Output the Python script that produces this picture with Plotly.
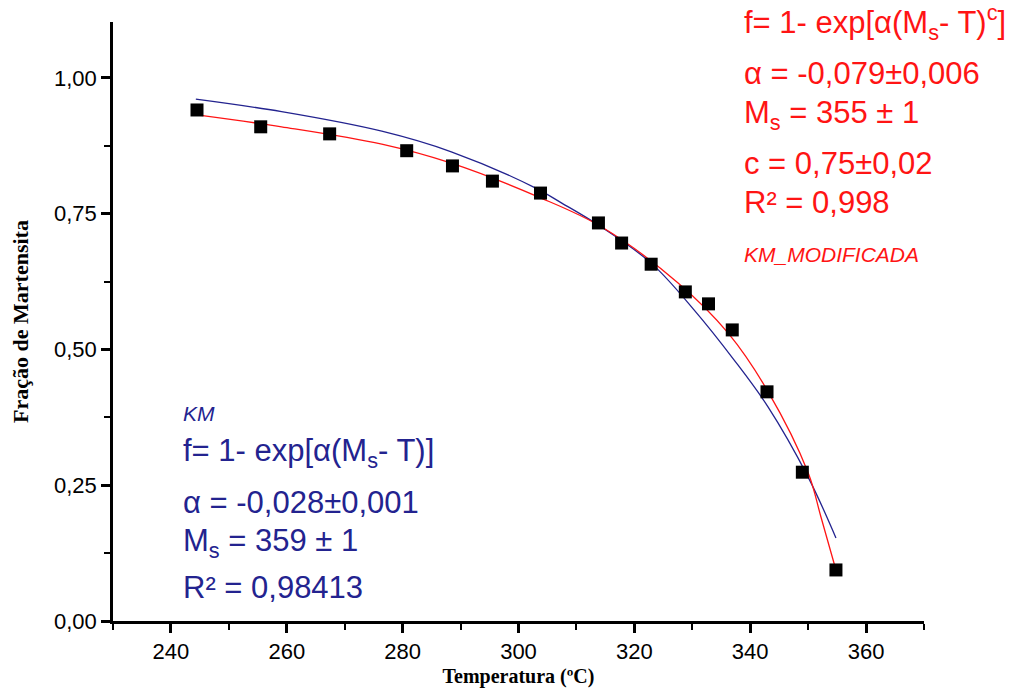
import plotly.graph_objects as go

# Experimental points
temp_pts = [244.5, 255.5, 267.4, 280.7, 288.6, 295.5, 303.8, 313.8, 317.8, 322.9,
            328.8, 332.8, 336.9, 342.9, 349.0, 354.8]
frac_pts = [0.941, 0.910, 0.897, 0.866, 0.838, 0.810, 0.788, 0.733, 0.696, 0.657,
            0.606, 0.584, 0.536, 0.422, 0.274, 0.094]

# KM fit curve
km_T = [244.3, 259.1, 276.4, 288.4, 302.8, 307.4, 313.8, 322.9, 330.3, 337.2, 343.1, 350.0, 354.8]
km_f = [0.961, 0.938, 0.902, 0.864, 0.798, 0.770, 0.729, 0.659, 0.573, 0.481, 0.394, 0.265, 0.153]

# KM modified fit curve
kmm_T = [244.5, 259.1, 276.4, 288.4, 303.4, 314.3, 327.6, 336.2, 343.1, 350.0, 352.2, 354.8]
kmm_f = [0.932, 0.910, 0.878, 0.843, 0.781, 0.726, 0.622, 0.530, 0.422, 0.273, 0.192, 0.094]

y_ticks = [0.0, 0.25, 0.5, 0.75, 1.0]
x_ticks = [240, 260, 280, 300, 320, 340, 360]

BLUE = "#23238f"
RED = "#ff1414"
SANS = "Arial, Liberation Sans, sans-serif"
SERIF = "Times New Roman, Liberation Serif, serif"

fig = go.Figure()
fig.add_trace(go.Scatter(x=km_T, y=km_f, mode="lines",
                         line=dict(color=BLUE, width=1.3, shape="spline", smoothing=1.0),
                         showlegend=False))
fig.add_trace(go.Scatter(x=kmm_T, y=kmm_f, mode="lines",
                         line=dict(color=RED, width=1.3, shape="spline", smoothing=1.0),
                         showlegend=False))
fig.add_trace(go.Scatter(x=temp_pts, y=frac_pts, mode="markers",
                         marker=dict(symbol="square", size=13, color="black"), showlegend=False))

red_lines = [
    ("f= 1- exp[α(M<sub>s</sub>- T)<sup>c</sup>]", 1.103, 31),
    ("α = -0,079±0,006", 1.009, 31),
    ("M<sub>s</sub> = 355 ± 1", 0.932, 31),
    ("c = 0,75±0,02", 0.843, 31),
    ("R² = 0,998", 0.770, 31),
    ("<i>KM_MODIFICADA</i>", 0.674, 21),
]
for txt, yy, sz in red_lines:
    fig.add_annotation(x=0.776, y=yy, xref="paper", yref="y", text=txt, showarrow=False,
                       xanchor="left", yanchor="middle", font=dict(family=SANS, size=sz, color=RED))

blue_lines = [
    ("<i>KM</i>", 0.383, 21),
    ("f= 1- exp[α(M<sub>s</sub>- T)]", 0.309, 31),
    ("α = -0,028±0,001", 0.219, 31),
    ("M<sub>s</sub> = 359 ± 1", 0.144, 31),
    ("R² = 0,98413", 0.061, 31),
]
for txt, yy, sz in blue_lines:
    fig.add_annotation(x=0.084, y=yy, xref="paper", yref="y", text=txt, showarrow=False,
                       xanchor="left", yanchor="middle", font=dict(family=SANS, size=sz, color=BLUE))

fig.update_layout(
    width=1011, height=689,
    margin=dict(l=113, r=87, t=22, b=68),
    plot_bgcolor="white", paper_bgcolor="white",
    separators=",.",
)
fig.update_xaxes(
    range=[230, 370], tickvals=x_ticks, ticks="outside", ticklen=9, tickwidth=2.5, tickcolor="black",
    showline=True, linewidth=2.5, linecolor="black", showgrid=False, zeroline=False, automargin=False,
    minor=dict(dtick=10, tick0=230, ticks="outside", ticklen=6, tickwidth=2, tickcolor="black", showgrid=False),
    tickfont=dict(family=SANS, size=22, color="black"),
    title=dict(text="<b>Temperatura (ºC)</b>", font=dict(family=SERIF, size=20, color="black"), standoff=6),
)
fig.update_yaxes(
    range=[0, 1.103], tickvals=y_ticks, tickformat=".2f", ticks="outside", ticklen=9, tickwidth=2.5,
    tickcolor="black", showline=True, linewidth=2.5, linecolor="black", showgrid=False, zeroline=False,
    automargin=False,
    minor=dict(dtick=0.125, tick0=0, ticks="outside", ticklen=6, tickwidth=2, tickcolor="black", showgrid=False),
    tickfont=dict(family=SANS, size=22, color="black"),
    title=dict(text="<b>Fração de Martensita</b>", font=dict(family=SERIF, size=22, color="black"), standoff=20),
)

fig.write_html("out.html")
